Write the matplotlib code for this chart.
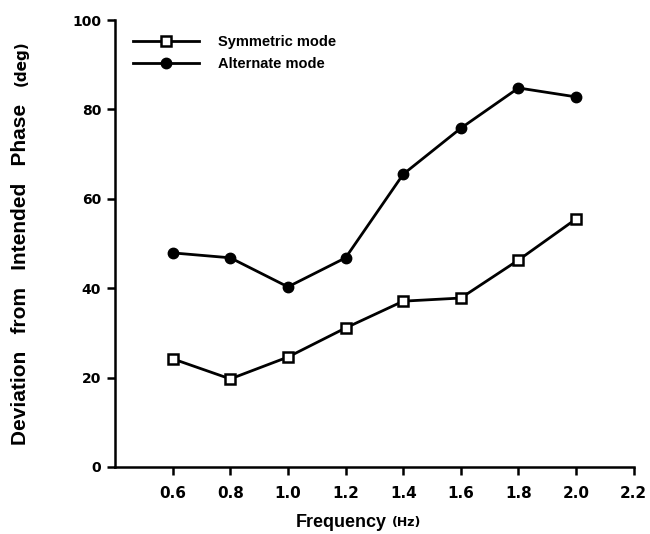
import matplotlib
matplotlib.use("Agg")
import matplotlib.pyplot as plt

# phase deviation vs movement frequency
freq = [0.6, 0.8, 1.0, 1.2, 1.4, 1.6, 1.8, 2.0]
symmetric = [24.2, 19.7, 24.6, 31.1, 37.1, 37.8, 46.3, 55.5]
alternate = [47.9, 46.8, 40.3, 46.8, 65.5, 75.8, 84.8, 82.8]

xticks = [0.6, 0.8, 1.0, 1.2, 1.4, 1.6, 1.8, 2.0, 2.2]
yticks = [0, 20, 40, 60, 80, 100]

fig = plt.figure(figsize=(6.5, 5.34), dpi=100)
ax = fig.add_axes([0.177, 0.1255, 0.798, 0.837])

ax.plot(freq, symmetric, color="black", lw=2.0, marker="s", ms=6.5,
        mfc="white", mec="black", mew=1.8, label="Symmetric mode")
ax.plot(freq, alternate, color="black", lw=2.0, marker="o", ms=7.5,
        mfc="black", mec="black", label="Alternate mode")

ax.set_xlim(0.4, 2.2)
ax.set_ylim(0, 100)
ax.set_xticks(xticks)
ax.set_yticks(yticks)
ax.set_xticklabels([f"{t:.1f}" for t in xticks], fontsize=11,
                   fontweight="heavy", family="DejaVu Sans")
ax.set_yticklabels([str(t) for t in yticks], fontsize=10,
                   fontweight="heavy", family="DejaVu Sans")
ax.tick_params(direction="out", length=6, width=1.8, pad=4)
ax.tick_params(axis="x", pad=8)

for s in ["top", "right"]:
    ax.spines[s].set_visible(False)
for s in ["left", "bottom"]:
    ax.spines[s].set_linewidth(1.8)

leg = ax.legend(loc="upper left", bbox_to_anchor=(0.01, 0.995), frameon=False,
                handlelength=4.5, handletextpad=1.3, labelspacing=0.55,
                prop={"family": "Liberation Sans", "weight": "bold", "size": 10.5})

# axis titles with the smaller unit labels
fig.text(0.525, 0.006, "Frequency", fontsize=13, fontweight="bold",
         family="Liberation Sans", ha="center", va="bottom")
fig.text(0.625, 0.010, "(Hz)", fontsize=9, fontweight="bold",
         family="DejaVu Sans", ha="center", va="bottom")
fig.text(0.031, 0.167, "Deviation   from   Intended   Phase",
         fontsize=15, fontweight="bold", family="Liberation Sans",
         rotation=90, ha="center", va="bottom")
fig.text(0.033, 0.925, "(deg)", fontsize=11, fontweight="bold",
         family="DejaVu Sans", rotation=90, ha="center", va="top")

fig.savefig("out.png", dpi=100)
